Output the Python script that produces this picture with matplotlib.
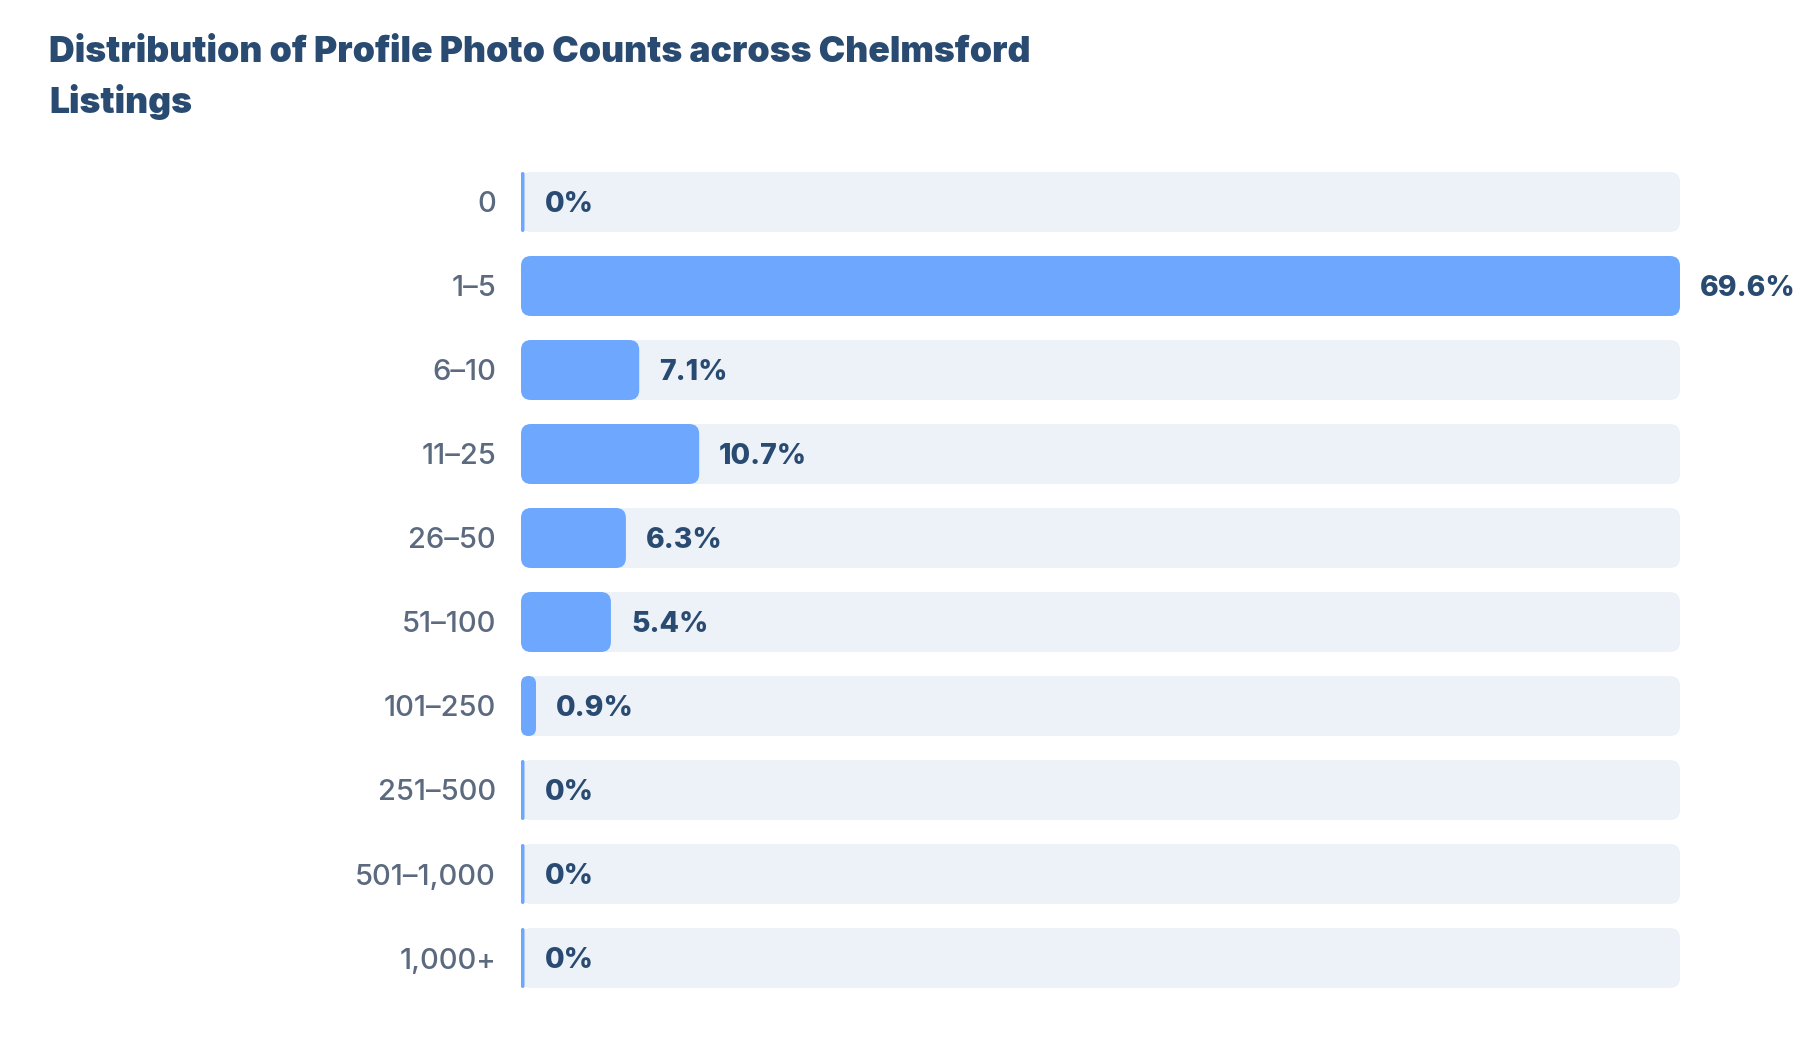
import matplotlib
matplotlib.use("Agg")
import matplotlib.pyplot as plt
from matplotlib.patches import FancyBboxPatch

categories = ["0", "1–5", "6–10", "11–25", "26–50", "51–100", "101–250",
              "251–500", "501–1,000", "1,000+"]
values = [0, 69.6, 7.1, 10.7, 6.3, 5.4, 0.9, 0, 0, 0]
value_labels = ["0%", "69.6%", "7.1%", "10.7%", "6.3%", "5.4%", "0.9%", "0%", "0%", "0%"]
title = "Distribution of Profile Photo Counts across Chelmsford\nListings"

BAR = "#6ea8fe"
TRACK = "#edf2f9"
NAVY = "#2a4b71"
GREY = "#5b6a7e"

plt.rcParams['font.family'] = ['Inter', 'DejaVu Sans']

W, H = 1800, 1044
fig = plt.figure(figsize=(18, 10.44), dpi=100)
fig.patch.set_facecolor("white")
ax = fig.add_axes([521 / W, 1 - 1000 / H, (1680 - 521) / W, 840 / H])
n = len(categories)
xmax = max(values)
ax.set_xlim(0, xmax)
ax.set_ylim(n - 0.5, -0.5)

# pixels per data unit
p0 = ax.transData.transform((0, 0))
p1 = ax.transData.transform((1, 1))
ppx = abs(p1[0] - p0[0])
ppy = abs(p1[1] - p0[1])
aspect = ppx / ppy

bar_h = 60 / 84
radius_px = 10
min_w_px = 3.5

for i, (cat, v, lab) in enumerate(zip(categories, values, value_labels)):
    # track
    ax.add_patch(FancyBboxPatch((0, i - bar_h / 2), xmax, bar_h,
                                boxstyle=f"round,pad=0,rounding_size={radius_px / ppx}",
                                mutation_aspect=aspect, fc=TRACK, ec="none", zorder=1))
    w = max(v, min_w_px / ppx)
    r = min(radius_px, w * ppx / 2)
    ax.add_patch(FancyBboxPatch((0, i - bar_h / 2), w, bar_h,
                                boxstyle=f"round,pad=0,rounding_size={r / ppx}",
                                mutation_aspect=aspect, fc=BAR, ec="none", zorder=2))
    ax.annotate(lab, xy=(w, i), xytext=(20, 0), textcoords="offset pixels",
                ha="left", va="center_baseline", fontsize=20.5, fontweight="heavy",
                color=NAVY, zorder=3, annotation_clip=False)

ax.set_yticks(range(n))
ax.set_yticklabels(categories, fontsize=21, color=GREY, va="center_baseline",
                   fontweight="medium")
ax.tick_params(axis="y", length=0, pad=18)
ax.set_xticks([])
for s in ax.spines.values():
    s.set_visible(False)

fig.text(49 / W, 1 - 36 / H, title, ha="left", va="top", fontsize=25.6,
         fontweight="black", color=NAVY, linespacing=1.52)

fig.savefig("out.png", dpi=100, facecolor="white")
